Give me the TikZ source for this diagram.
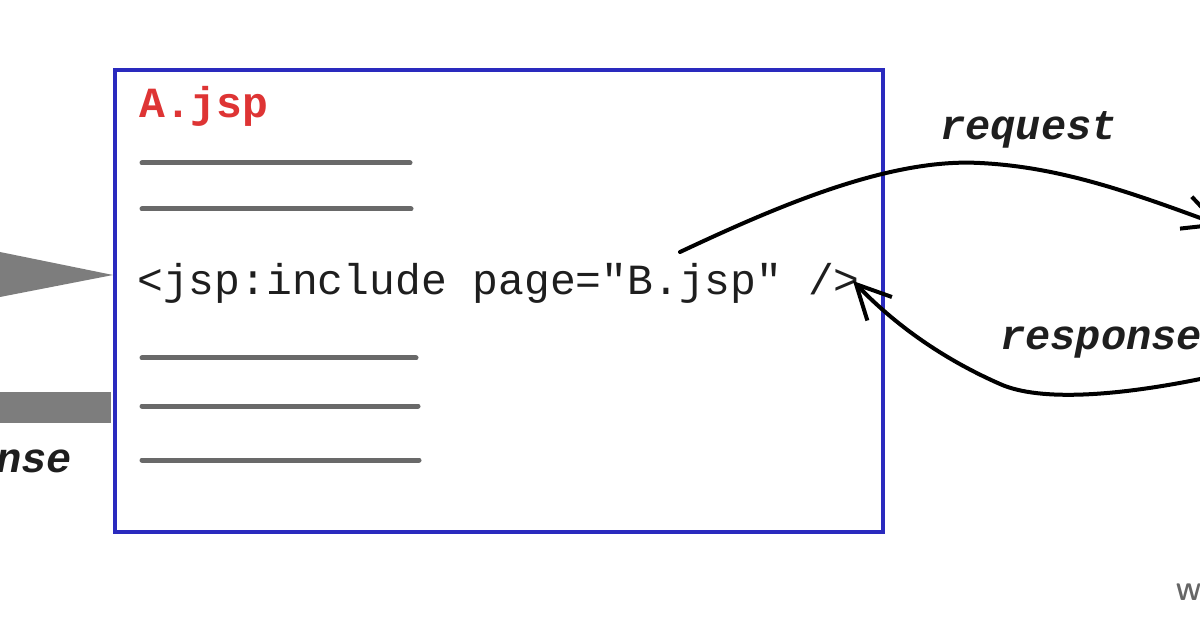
\documentclass[tikz,border=0pt]{standalone}
\usepackage{fontspec}
\setmonofont{Liberation Mono}
\usetikzlibrary{arrows.meta}
\definecolor{boxblue}{RGB}{42,42,190}
\definecolor{jspred}{RGB}{222,52,52}
\definecolor{linegray}{RGB}{105,105,105}
\definecolor{arrowgray}{RGB}{125,125,125}
\definecolor{codeink}{RGB}{30,30,30}
\tikzset{
  mono/.style={font=\ttfamily\fontsize{43}{43}\selectfont, inner sep=0pt, anchor=base west},
  label/.style={font=\ttfamily\bfseries\itshape\fontsize{42}{42}\selectfont, inner sep=0pt, text=codeink},
  textline/.style={draw=linegray, line width=5pt, line cap=round},
  flow/.style={draw=black, line width=4pt, line cap=round},
  barb/.style={-{Straight Barb[length=34pt,width=34pt,line width=4pt]}}
}
\begin{document}
\begin{tikzpicture}[x=1pt,y=-1pt]
\useasboundingbox (0,0) rectangle (1200,628);
\fill[white] (0,0) rectangle (1200,628);
% main box
\node[draw=boxblue, line width=4pt, minimum width=768pt, minimum height=462pt, inner sep=0pt, anchor=north west] (box) at (113,68) {};
% title
\node[mono, font=\ttfamily\bfseries\fontsize{43}{43}\selectfont, text=jspred] (title) at (139,118) {A.jsp};
% text lines
\coordinate (l1a) at (142,163); \coordinate (l1b) at (410,163);
\coordinate (l2a) at (142,209); \coordinate (l2b) at (411,209);
\coordinate (l3a) at (142,358); \coordinate (l3b) at (416,358);
\coordinate (l4a) at (142,406); \coordinate (l4b) at (418,406);
\coordinate (l5a) at (142,460); \coordinate (l5b) at (419,460);
\draw[textline] (l1a) -- (l1b);
\draw[textline] (l2a) -- (l2b);
\draw[textline] (l3a) -- (l3b);
\draw[textline] (l4a) -- (l4b);
\draw[textline] (l5a) -- (l5b);
% code line
\node[mono, text=codeink] (code) at (137,295) {<jsp:include page="B.jsp" />};
% left incoming request (gray wedge) and outgoing response (gray bar)
\coordinate (wedgeTop) at (0,252);
\coordinate (wedgeBot) at (0,297);
\coordinate (wedgeTip) at (113,275);
\fill[arrowgray] (wedgeTop) -- (wedgeTip) -- (wedgeBot) -- cycle;
\coordinate (barA) at (0,392);
\coordinate (barB) at (111,423);
\fill[arrowgray] (barA) rectangle (barB);
\node[label, anchor=base east] (lresp) at (72,472) {response};
% right side labels
\node[label, anchor=base west] (req) at (940,140) {request};
\node[label, anchor=base west] (rresp) at (1000,350) {response};
% request curve
\coordinate (reqStart) at (680,252);
\coordinate (reqEnd) at (1222,226);
\draw[flow, barb] (reqStart) .. controls (780,205) and (890,158) .. (980,163)
  .. controls (1060,167) and (1130,192) .. (reqEnd);
% response curve
\coordinate (respStart) at (1210,377);
\coordinate (respEnd) at (853,281);
\draw[flow, barb] (respStart) .. controls (1120,396) and (1040,402) .. (1000,384)
  .. controls (950,362) and (900,330) .. (respEnd);
% watermark fragment
\node[font=\sffamily\bfseries\fontsize{24}{24}\selectfont, text=black!60, inner sep=0pt, anchor=base west] (wm) at (1176,600) {W};
\end{tikzpicture}
\end{document}
